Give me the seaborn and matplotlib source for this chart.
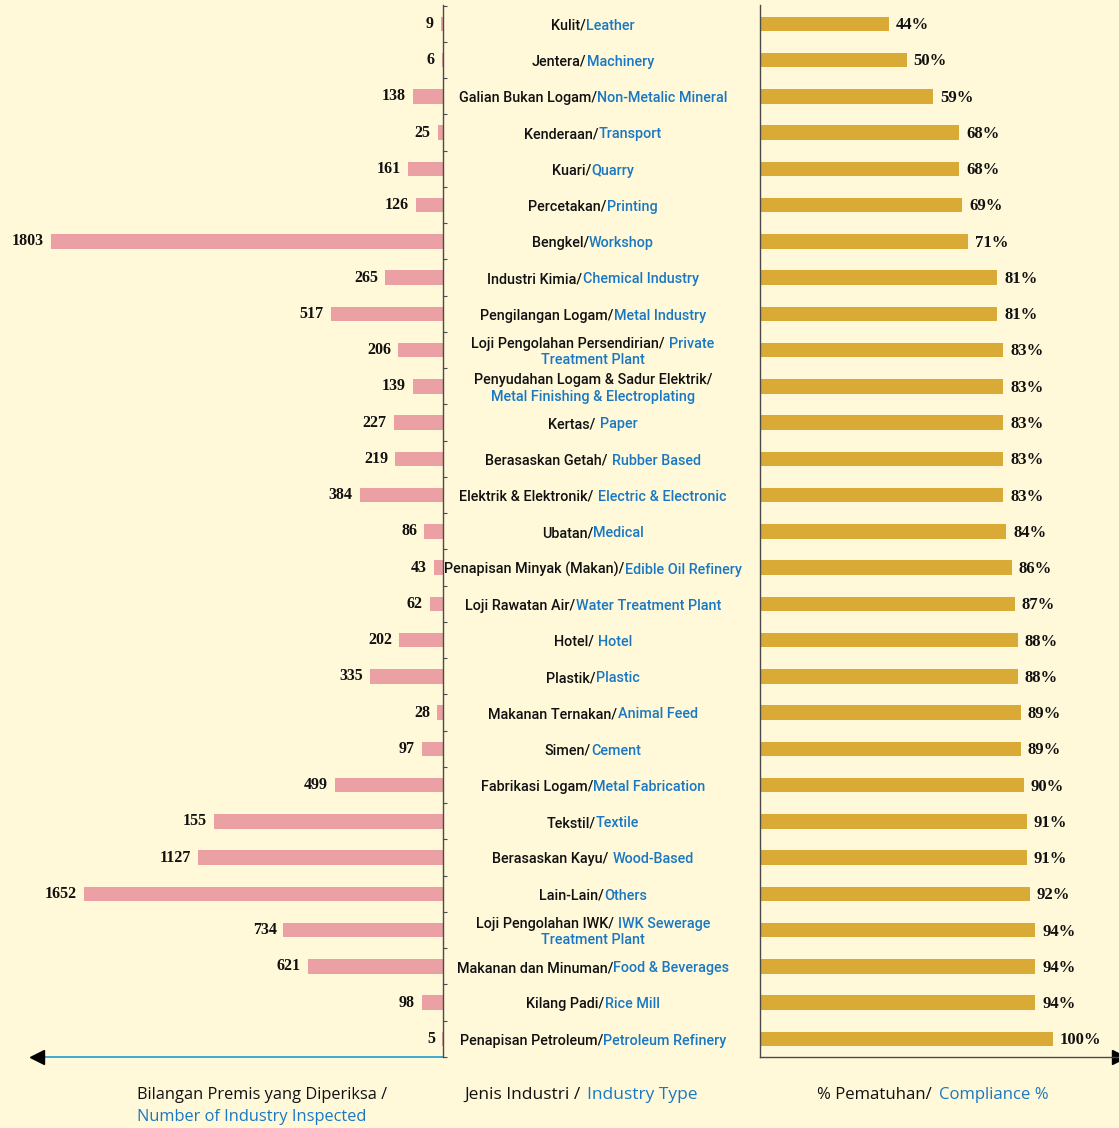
import numpy as np
import pandas as pd
import seaborn as sns
import matplotlib.pyplot as plt
from matplotlib import font_manager
from matplotlib.offsetbox import TextArea, HPacker, VPacker, AnnotationBbox
from matplotlib.transforms import blended_transform_factory

# Industry names: Malay part (black) and English part (blue); "\n" starts a second line
industry_ms = [
    'Kulit/', 'Jentera/', 'Galian Bukan Logam/', 'Kenderaan/', 'Kuari/', 'Percetakan/',
    'Bengkel/', 'Industri Kimia/', 'Pengilangan Logam/', 'Loji Pengolahan Persendirian/',
    'Penyudahan Logam & Sadur Elektrik/', 'Kertas/', 'Berasaskan Getah/',
    'Elektrik & Elektronik/', 'Ubatan/', 'Penapisan Minyak (Makan)/', 'Loji Rawatan Air/',
    'Hotel/', 'Plastik/', 'Makanan Ternakan/', 'Simen/', 'Fabrikasi Logam/', 'Tekstil/',
    'Berasaskan Kayu/', 'Lain-Lain/', 'Loji Pengolahan IWK/', 'Makanan dan Minuman/',
    'Kilang Padi/', 'Penapisan Petroleum/',
]
industry_en = [
    'Leather', 'Machinery', 'Non-Metalic Mineral', 'Transport', 'Quarry', 'Printing',
    'Workshop', 'Chemical Industry', 'Metal Industry', ' Private\nTreatment Plant',
    '\nMetal Finishing & Electroplating', ' Paper', ' Rubber Based',
    ' Electric & Electronic', 'Medical', 'Edible Oil Refinery', 'Water Treatment Plant',
    ' Hotel', 'Plastic', 'Animal Feed', 'Cement', 'Metal Fabrication', 'Textile',
    ' Wood-Based', 'Others', ' IWK Sewerage\nTreatment Plant', 'Food & Beverages',
    'Rice Mill', 'Petroleum Refinery',
]
# number of premises inspected (printed labels) and bar lengths as drawn
inspected_labels = ['9', '6', '138', '25', '161', '126', '1803', '265', '517', '206',
                    '139', '227', '219', '384', '86', '43', '62', '202', '335', '28',
                    '97', '499', '155', '1127', '1652', '734', '621', '98', '5']
inspected_bars = [9, 6, 138, 25, 161, 126, 1803, 265, 517, 206,
                  139, 227, 219, 384, 86, 43, 62, 202, 335, 28,
                  97, 499, 1055, 1127, 1652, 734, 621, 98, 5]
compliance = [44, 50, 59, 68, 68, 69, 71, 81, 81, 83, 83, 83, 83, 83, 84, 86, 87, 88,
              88, 89, 89, 90, 91, 91, 92, 94, 94, 94, 100]

bg = '#FFF9DA'
pink = '#EBA1A4'
gold = '#D9AA35'
blue = '#1A78C2'
teal = '#2EA3CF'
spine = '#4A4A4A'

sns.set_theme(style='white', rc={'axes.facecolor': bg, 'figure.facecolor': bg})

names = {f.name for f in font_manager.fontManager.ttflist}
if 'Liberation Sans Narrow' in names:
    cat_family, cat_size = 'Liberation Sans Narrow', 12
else:
    cat_family, cat_size = 'Roboto', 10.4
num_family = 'Liberation Serif'
title_family = 'Open Sans'

df = pd.DataFrame({
    'industry': [m + e for m, e in zip(industry_ms, industry_en)],
    'inspected': inspected_bars,
    'compliance': compliance,
})
n = len(df)

W, H = 1119, 1128
fig = plt.figure(figsize=(W / 100, H / 100), dpi=100)
bottom = 1 - 1057 / H
height = (1057 - 5) / H
ax_l = fig.add_axes([0, bottom, 443 / W, height])
ax_r = fig.add_axes([760 / W, bottom, (W - 760) / W, height])

sns.barplot(data=df, x='inspected', y='industry', ax=ax_l, color=pink,
            width=0.4, saturation=1, orient='h', linewidth=0)
sns.barplot(data=df, x='compliance', y='industry', ax=ax_r, color=gold,
            width=0.4, saturation=1, orient='h', linewidth=0)

ylim = (n - 1 + 0.38, -0.52)
for ax in (ax_l, ax_r):
    ax.set_ylim(*ylim)
    ax.set_xlabel('')
    ax.set_ylabel('')
    ax.set_xticks([])
    ax.set_yticks(np.arange(-0.5, n, 1))
    ax.set_yticklabels([])
    ax.set_facecolor(bg)
    for s in ax.spines.values():
        s.set_visible(False)
        s.set_color(spine)
        s.set_linewidth(1)

ax_l.set_xlim(2038, 0)
ax_l.yaxis.tick_right()
ax_l.spines['right'].set_visible(True)
ax_l.tick_params(axis='y', length=3, width=0.8, color=spine, direction='out')

ax_r.set_xlim(0, 122.5)
ax_r.spines['left'].set_visible(True)
ax_r.spines['bottom'].set_visible(True)
ax_r.tick_params(axis='y', length=3, width=0.8, color=spine, direction='out')

# left arrow axis line
ax_l.plot([1, 40 / 443], [0, 0], transform=ax_l.transAxes, color=teal, lw=1.3,
          clip_on=False)
ax_l.plot([37 / 443], [0], transform=ax_l.transAxes, marker='<', color='black',
          ms=10, clip_on=False)
ax_r.plot([1.0], [0], transform=ax_r.transAxes, marker='>', color='black',
          ms=10, clip_on=False)

for i, (v, lbl) in enumerate(zip(inspected_bars, inspected_labels)):
    ax_l.annotate(lbl, (v, i), xytext=(-5, 0), textcoords='offset points',
                  ha='right', va='center', fontsize=11.5, fontweight='bold',
                  family=num_family, color='#111111')
for i, v in enumerate(compliance):
    ax_r.annotate(f'{v}%', (v, i), xytext=(5, -1), textcoords='offset points',
                  ha='left', va='center', fontsize=12, fontweight='bold',
                  family=num_family, color='#111111')


def two_tone(black_txt, blue_txt, size, family):
    props_k = dict(color='#111111', fontsize=size, family=family, fontweight='medium')
    props_b = dict(color=blue, fontsize=size, family=family, fontweight='medium')
    lines = blue_txt.split('\n')
    first = lines[0]
    sep = 3 if first.startswith(' ') else 0
    kids = [TextArea(black_txt, textprops=props_k)]
    if first.strip():
        kids.append(TextArea(first.strip(), textprops=props_b))
    rows = [HPacker(children=kids, align='baseline', pad=0, sep=sep)]
    for extra in lines[1:]:
        rows.append(TextArea(extra, textprops=props_b))
    if len(rows) == 1:
        return rows[0]
    return VPacker(children=rows, align='center', pad=0, sep=2)


trans = blended_transform_factory(fig.transFigure, ax_r.transData)
for i, (ms, en) in enumerate(zip(industry_ms, industry_en)):
    box = two_tone(ms, en, cat_size, cat_family)
    ab = AnnotationBbox(box, (593 / W, i + 0.05), xycoords=trans,
                        box_alignment=(0.5, 0.5), frameon=False, pad=0,
                        annotation_clip=False)
    ax_r.add_artist(ab)

# bottom titles
fig.text(137 / W, 1 - 1095 / H, 'Bilangan Premis yang Diperiksa /', ha='left',
         va='center', fontsize=11.8, family=title_family, color='#111111')
fig.text(137 / W, 1 - 1117 / H, 'Number of Industry Inspected', ha='left',
         va='center', fontsize=11.8, family=title_family, color=blue)
for xc, k, b, fs in [(581, 'Jenis Industri /', 'Industry Type', 12.5),
                     (933, '% Pematuhan/', 'Compliance %', 12.1)]:
    box = HPacker(children=[TextArea(k, textprops=dict(color='#111111', fontsize=fs, family=title_family)),
                            TextArea(b, textprops=dict(color=blue, fontsize=fs, family=title_family))],
                  align='baseline', pad=0, sep=5)
    ab = AnnotationBbox(box, (xc / W, 1 - 1095 / H), xycoords='figure fraction',
                        box_alignment=(0.5, 0.5), frameon=False, pad=0,
                        annotation_clip=False)
    fig.add_artist(ab)

fig.savefig('out.png', dpi=100, facecolor=bg)
